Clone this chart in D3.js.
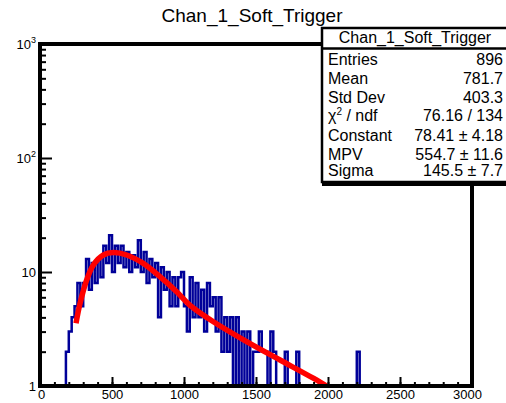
<!DOCTYPE html>
<html>
<head>
<meta charset="utf-8">
<script src="https://cdn.jsdelivr.net/npm/d3@7"></script>
<style>
  body { margin: 0; background: #fff; }
  svg { display: block; font-family: "Liberation Sans", Arial, Helvetica, sans-serif; }
</style>
</head>
<body>
<div id="chart"></div>
<script>
const title = "Chan_1_Soft_Trigger";

// histogram: bins of width 20 starting at 180
const binStart = 180;
const binWidth = 20;
const counts = [
  2, 3, 4, 5, 8, 5, 8, 13, 7, 12,
  8, 13, 9, 17, 12, 21, 10, 17, 12, 17,
  11, 15, 10, 14, 11, 19, 10, 15, 8, 13,
  9, 12, 4, 11, 7, 10, 5, 9, 5, 9,
  10, 5, 3, 9, 4, 8, 4, 7, 3, 8,
  5, 6, 3, 6, 2, 4, 2, 4, 1, 4,
  1, 3, 0, 3, 1, 2, 2, 3, 2, 2,
  1, 3, 2, 1, 0, 0, 2, 1, 0, 0,
  2, 1, 0, 0, 0, 0, 0, 0, 0, 0,
  0, 0, 0, 0, 0, 0, 0, 0, 0, 0,
  0, 2
];

// landau fit curve
const fitX = [250, 278, 324, 370, 440, 509, 602, 717, 833, 949, 1042, 1204, 1435, 1667, 1898, 2000];
const fitY = [3.55, 5.3, 8.5, 11.5, 14.1, 14.8, 14.1, 11.9, 9.1, 6.7, 5.1, 3.66, 2.45, 1.69, 1.17, 0.98];

const xMajor = [0, 500, 1000, 1500, 2000, 2500, 3000];
const xMinorStep = 100;
const yMajor = [1, 10, 100, 1000];
const yLabels = [["1", ""], ["10", ""], ["10", "2"], ["10", "3"]];

const statsTitle = "Chan_1_Soft_Trigger";
const statsNames = ["Entries", "Mean", "Std Dev", "χ2 / ndf", "Constant", "MPV", "Sigma"];
const statsValues = ["896", "781.7", "403.3", "76.16 / 134", "78.41 ± 4.18", "554.7 ± 11.6", "145.5 ± 7.7"];

const W = 506, H = 403;
const margin = { top: 44, right: 34, bottom: 17, left: 40 };
const x0 = margin.left, x1 = W - margin.right;
const y0 = margin.top, y1 = H - margin.bottom;

const svg = d3.select("#chart").append("svg")
  .attr("width", W)
  .attr("height", H);

const x = d3.scaleLinear().domain([0, 3000]).range([x0, x1]);
const y = d3.scaleLog().domain([1, 1000]).range([y1, y0]);

svg.append("defs").append("clipPath")
  .attr("id", "plot-clip")
  .append("rect")
  .attr("x", x0).attr("y", y0)
  .attr("width", x1 - x0).attr("height", y1 - y0);

// title
svg.append("text")
  .attr("x", 252)
  .attr("y", 22)
  .attr("text-anchor", "middle")
  .style("font-size", "19px")
  .text(title);

// histogram as a step line (empty bins drop below the frame)
const yOf = c => (c > 0 ? y(c) : y1 + 10);
const pts = [[x(binStart), y1 + 10]];
counts.forEach((c, i) => {
  const lo = binStart + i * binWidth;
  pts.push([x(lo), yOf(c)]);
  pts.push([x(lo + binWidth), yOf(c)]);
});
pts.push([x(binStart + counts.length * binWidth), y1 + 10]);

svg.append("path")
  .attr("clip-path", "url(#plot-clip)")
  .attr("d", d3.line()(pts))
  .attr("fill", "none")
  .attr("stroke", "#000099")
  .attr("stroke-width", 2.5);

// fit
svg.append("path")
  .attr("clip-path", "url(#plot-clip)")
  .datum(fitX.map((v, i) => [v, fitY[i]]))
  .attr("d", d3.line()
    .curve(d3.curveCatmullRom)
    .x(d => x(d[0]))
    .y(d => y(d[1])))
  .attr("fill", "none")
  .attr("stroke", "#ff0000")
  .attr("stroke-width", 5.5);

// x axis
const xAxis = svg.append("g")
  .attr("transform", `translate(0,${y1})`)
  .call(d3.axisBottom(x).tickValues(xMajor).tickSize(-9).tickPadding(4).tickFormat(d3.format("d")));
xAxis.select(".domain").remove();
xAxis.selectAll("line").attr("stroke-width", 2);
xAxis.selectAll("text").style("font-size", "13px").attr("fill", "#000");
// ROOT pulls the last label back inside
xAxis.selectAll("text").filter(d => d === 3000).attr("dx", -5);
xAxis.selectAll("text").filter(d => d === 0).attr("dx", 1);

const xMinor = svg.append("g")
  .attr("transform", `translate(0,${y1})`)
  .call(d3.axisBottom(x).tickValues(d3.range(0, 3001, xMinorStep)).tickSize(-4).tickFormat(""));
xMinor.select(".domain").remove();
xMinor.selectAll("line").attr("stroke-width", 2);

// y axis
const yAxis = svg.append("g")
  .attr("transform", `translate(${x0},0)`)
  .call(d3.axisLeft(y).tickValues(yMajor).tickSize(-12).tickFormat(""));
yAxis.select(".domain").remove();
yAxis.selectAll("line").attr("stroke-width", 2);

const yMinorVals = [];
[1, 10, 100].forEach(d => [2, 3, 4, 5, 6, 7, 8, 9].forEach(m => yMinorVals.push(d * m)));
const yMinor = svg.append("g")
  .attr("transform", `translate(${x0},0)`)
  .call(d3.axisLeft(y).tickValues(yMinorVals).tickSize(-6).tickFormat(""));
yMinor.select(".domain").remove();
yMinor.selectAll("line").attr("stroke-width", 2);

yMajor.forEach((v, i) => {
  const t = svg.append("text")
    .attr("x", 36)
    .attr("y", y(v) + 5)
    .attr("text-anchor", "end")
    .style("font-size", "13px");
  t.append("tspan").text(yLabels[i][0]);
  if (yLabels[i][1]) {
    t.append("tspan").attr("dy", -6).style("font-size", "9px").text(yLabels[i][1]);
  }
});

// frame
svg.append("rect")
  .attr("x", x0).attr("y", y0)
  .attr("width", x1 - x0).attr("height", y1 - y0)
  .attr("fill", "none")
  .attr("stroke", "#000")
  .attr("stroke-width", 4);

// stats box
const sb = { x: 322, y: 28, w: 192, h: 154 };
svg.append("rect")
  .attr("x", sb.x).attr("y", sb.y + 4)
  .attr("width", sb.w).attr("height", sb.h)
  .attr("fill", "#000");
svg.append("rect")
  .attr("x", sb.x).attr("y", sb.y)
  .attr("width", sb.w).attr("height", sb.h)
  .attr("fill", "#fff")
  .attr("stroke", "#000")
  .attr("stroke-width", 2.5);
svg.append("line")
  .attr("x1", sb.x).attr("x2", sb.x + sb.w)
  .attr("y1", 48.5).attr("y2", 48.5)
  .attr("stroke", "#000")
  .attr("stroke-width", 2.5);

svg.append("text")
  .attr("x", 415)
  .attr("y", 43)
  .attr("text-anchor", "middle")
  .style("font-size", "16px")
  .text(statsTitle);

const rowY = [65, 84, 103, 121, 141, 159.5, 175.5];
statsNames.forEach((name, i) => {
  const t = svg.append("text")
    .attr("x", 328)
    .attr("y", rowY[i])
    .style("font-size", "16px");
  if (name.startsWith("χ2")) {
    t.append("tspan").text("χ");
    t.append("tspan").attr("dy", -6).style("font-size", "10px").text("2");
    t.append("tspan").attr("dy", 6).text(" / ndf");
  } else {
    t.text(name);
  }
  svg.append("text")
    .attr("x", 503)
    .attr("y", rowY[i])
    .attr("text-anchor", "end")
    .style("font-size", "16px")
    .text(statsValues[i]);
});
</script>
</body>
</html>
